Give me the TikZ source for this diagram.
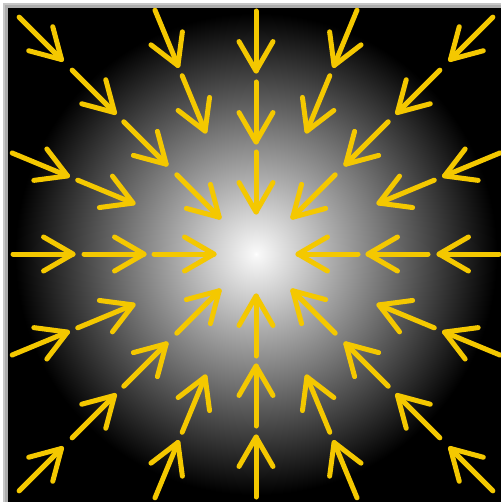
\documentclass[tikz,border=0pt]{standalone}
\usetikzlibrary{calc}
\definecolor{arrowyellow}{RGB}{244,200,0}
\pgfdeclareradialshading{glow}{\pgfpoint{0bp}{0bp}}{color(0bp)=(white); color(3bp)=(white!97!black); color(240bp)=(black)}
\tikzset{
  fieldarrow/.style={draw=arrowyellow, line width=5pt, line cap=round, line join=round},
}
\begin{document}
\begin{tikzpicture}[x=1pt,y=-1pt]
\useasboundingbox (0,0) rectangle (501,502);
\fill[white] (0,0) rectangle (501,502);
\fill[gray!45] (3,3) rectangle (501,502);
\fill[gray!65] (5,5) rectangle (501,502);
\fill[black] (8,8) rectangle (501,502);
\coordinate (c) at (256,254);
\begin{scope}
\clip (8,8) rectangle (501,502);
\node[inner sep=0pt, outer sep=0pt] (glowspot) at (c) {\pgfuseshading{glow}};
\foreach \a/\r in {
  0/72,0/142,0/213, 90/72,90/142,90/213, 180/72,180/142,180/213, 270/72,270/142,270/213,
  45/82,45/157,45/230,45/305, 135/82,135/157,135/230,135/305,
  225/82,225/157,225/230,225/305, 315/82,315/157,315/230,315/305,
  22.5/163,22.5/234, 67.5/163,67.5/234, 112.5/163,112.5/234, 157.5/163,157.5/234,
  202.5/163,202.5/234, 247.5/163,247.5/234, 292.5/163,292.5/234, 337.5/163,337.5/234}{
  \coordinate (tip) at ($(c)+(\a:\r-30)$);
  \draw[fieldarrow] (tip) -- ++(\a:60);
  \draw[fieldarrow] (tip) ++(\a+30:34) -- (tip) -- ++(\a-30:34);
}
\end{scope}
\end{tikzpicture}
\end{document}
